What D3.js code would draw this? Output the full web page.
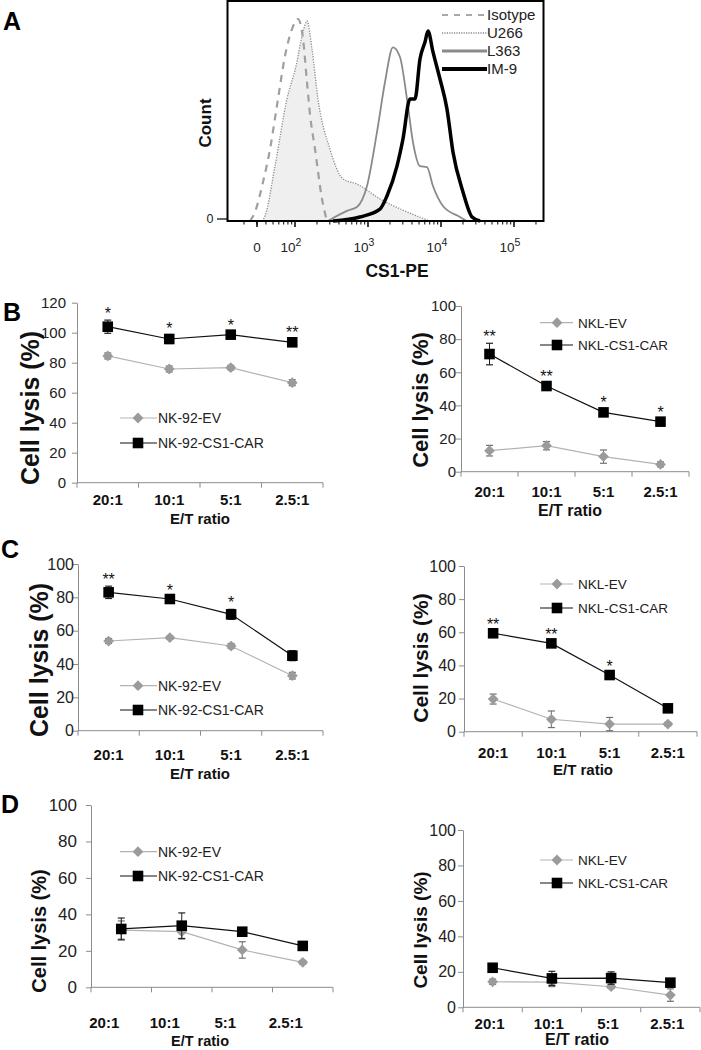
<!DOCTYPE html>
<html><head><meta charset="utf-8">
<script src="https://cdn.jsdelivr.net/npm/d3@7/dist/d3.min.js"></script>
<style>
body{margin:0;background:#fff}
svg{display:block}
text{font-family:"Liberation Sans",Arial,Helvetica,sans-serif}
</style>
</head><body>
<svg id="chart" width="701" height="1050"></svg>
<script>
// ---------------- DATA ----------------
// Panel A: flow histogram (x = display position in decades, y = relative count)
const isotypeX = [1.384,1.452,1.562,1.658,1.767,1.863,1.959,2.041,2.110,2.164,2.205,2.274,2.370,2.438];
const isotypeY = [0,4.5,19.3,35.6,60.4,81.7,95,100,90.1,68.8,53,35.6,10.9,0];
const u266X = [1.548,1.589,1.726,1.890,2.014,2.110,2.164,2.233,2.315,2.479,2.658,2.849,3.164,3.534,3.849];
const u266Y = [0,2.5,27.2,60.4,76.7,93.6,99,85.1,60.4,35.6,20.8,18.3,10.9,4.5,0];
const l363X = [2.452,2.712,2.849,2.986,3.123,3.233,3.342,3.438,3.534,3.616,3.712,3.808,3.890,4.027,4.260,4.356];
const l363Y = [0,5,6.9,17.3,44,68.8,86,81.2,60.4,39,27.2,26.7,17.3,7.4,2,0];
const im9X = [2.521,2.890,3.164,3.260,3.397,3.479,3.575,3.644,3.712,3.781,3.822,3.890,3.986,4.082,4.164,4.301,4.425,4.534];
const im9Y = [0,2,5.9,12.4,27.2,40.6,60.4,60.4,80.2,88.6,94,83.7,70.3,55.4,34.2,14.4,2,0];
const histLegend = ["Isotype","U266","L363","IM-9"];
const histTickPos = [1.48,2,3,4,5];
const histTickBase = ["0","10","10","10","10"];
const histTickExp = ["","2","3","4","5"];

// Panels B-D: cytotoxicity
const categories = ["20:1","10:1","5:1","2.5:1"];
const bNk92EV = [84.5,75.8,76.7,66.7];
const bNk92EVErr = [2,2,1.5,2];
const bNk92CAR = [104,95.8,98.7,93.6];
const bNk92CARErr = [4.4,3,2,2.5];
const bNk92Stars = ["*","*","*","**"];
const bNklEV = [12.7,15.7,9.1,4.4];
const bNklEVErr = [3.2,2.5,4,1.5];
const bNklCAR = [71,51.7,35.8,30.2];
const bNklCARErr = [6.5,2,2,1.5];
const bNklStars = ["**","**","*","*"];
const cNk92EV = [53.8,55.8,50.8,33];
const cNk92EVErr = [1.5,1,1.5,2];
const cNk92CAR = [83,79,69.8,45];
const cNk92CARErr = [3.7,1.5,3,3];
const cNk92Stars = ["**","*","*",""];
const cNklEV = [19.7,7.5,4.6,4.6];
const cNklEVErr = [3,5,4,1];
const cNklCAR = [59.4,53.3,34.2,14.1];
const cNklCARErr = [1.5,1.5,1.5,2];
const cNklStars = ["**","**","*",""];
const dNk92EV = [31.4,30.5,20.5,13.7];
const dNk92EVErr = [5,4,4.5,1];
const dNk92CAR = [32,33.8,30.5,22.7];
const dNk92CARErr = [6,7,1,1.2];
const dNk92Stars = ["","","",""];
const dNklEV = [14.4,14.2,11.6,6.9];
const dNklEVErr = [1.5,2.5,1,3.5];
const dNklCAR = [22.3,16.3,16.5,13.9];
const dNklCARErr = [1,4,3.5,2];
const dNklStars = ["","","",""];
const nk92Legend = ["NK-92-EV","NK-92-CS1-CAR"];
const nklLegend = ["NKL-EV","NKL-CS1-CAR"];
const yTitle = "Cell lysis (%)";
const xTitle = "E/T ratio";

// ---------------- DRAW ----------------
const svg = d3.select("#chart");

// panel letters
[["A",3,30],["B",3,321],["C",1,558],["D",1,813]].forEach(([t,x,y])=>{
  svg.append("text").attr("x",x).attr("y",y).attr("font-size",25).attr("font-weight","bold").attr("fill","#000").text(t);
});

// ---- Panel A ----
(function(){
  const L=227.5,R=543.5,T=1,B=221;
  const x = d3.scaleLinear().domain([2 + (L-295)/73, 2 + (R-295)/73]).range([L,R]);
  const y = d3.scaleLinear().domain([0,100]).range([B,19]);
  const g = svg.append("g");
  const line = d3.line().x(d=>x(d[0])).y(d=>y(d[1])).curve(d3.curveMonotoneX);
  const area = d3.area().x(d=>x(d[0])).y0(y(0)).y1(d=>y(d[1])).curve(d3.curveMonotoneX);
  const u = d3.zip(u266X,u266Y), iso=d3.zip(isotypeX,isotypeY), l3=d3.zip(l363X,l363Y), im=d3.zip(im9X,im9Y);
  g.append("path").attr("d",area(u)).attr("fill","#efefef");
  g.append("path").attr("d",line(u)).attr("fill","none").attr("stroke","#8a8a8a").attr("stroke-width",1.3).attr("stroke-dasharray","1.2,1.4");
  g.append("path").attr("d",line(l3)).attr("fill","none").attr("stroke","#8a8a8a").attr("stroke-width",1.8);
  g.append("path").attr("d",line(im)).attr("fill","none").attr("stroke","#000").attr("stroke-width",3.5).attr("stroke-linejoin","round");
  g.append("path").attr("d",line(iso)).attr("fill","none").attr("stroke","#a0a0a0").attr("stroke-width",2.2).attr("stroke-dasharray","7,6");
  // box
  g.append("rect").attr("x",L).attr("y",T).attr("width",R-L).attr("height",B-T).attr("fill","none").attr("stroke","#000").attr("stroke-width",2);
  // minor ticks
  const minor=[];
  for(let n=1;n<=5;n++) for(let k=2;k<=9;k++){const p=n+Math.log10(k); if(p>x.domain()[0]&&p<x.domain()[1]) minor.push(p);}
  g.selectAll(".mn").data(minor).join("line").attr("x1",d=>x(d)).attr("x2",d=>x(d)).attr("y1",B).attr("y2",B+3.5).attr("stroke","#000").attr("stroke-width",1);
  g.selectAll(".mj").data(histTickPos).join("line").attr("x1",d=>x(d)).attr("x2",d=>x(d)).attr("y1",B).attr("y2",B+6).attr("stroke","#000").attr("stroke-width",1.5);
  const tl = g.selectAll(".tl").data(histTickPos).join("text").attr("x",(d,i)=>x(d)-(i?4:0)).attr("y",252).attr("text-anchor","middle").attr("font-size",13.5).attr("fill","#222");
  tl.append("tspan").text((d,i)=>histTickBase[i]);
  tl.append("tspan").attr("dy",-6).attr("font-size",10.5).text((d,i)=>histTickExp[i]);
  // y axis zero
  g.append("line").attr("x1",217).attr("x2",L).attr("y1",B-2).attr("y2",B-2).attr("stroke","#000").attr("stroke-width",1.2);
  g.append("text").attr("x",210).attr("y",B+2).attr("text-anchor","middle").attr("font-size",12.5).attr("fill","#222").text("0");
  g.append("text").attr("transform","translate(211,123) rotate(-90)").attr("text-anchor","middle").attr("font-size",17).attr("font-weight","bold").attr("fill","#111").text("Count");
  g.append("text").attr("x",397).attr("y",277).attr("text-anchor","middle").attr("font-size",17.5).attr("font-weight","bold").attr("fill","#111").text("CS1-PE");
  // legend
  const ly=[15,33,51,69];
  const styles=[{c:"#a8a8a8",w:2,d:"6,6"},{c:"#8a8a8a",w:1.5,d:"1.2,1.2"},{c:"#8a8a8a",w:3,d:null},{c:"#000",w:4,d:null}];
  histLegend.forEach((t,i)=>{
    g.append("line").attr("x1",442).attr("x2",487).attr("y1",ly[i]).attr("y2",ly[i]).attr("stroke",styles[i].c).attr("stroke-width",styles[i].w).attr("stroke-dasharray",styles[i].d);
    g.append("text").attr("x",487).attr("y",ly[i]).attr("dy","0.36em").attr("font-size",15).attr("fill","#222").text(t);
  });
})();

// ---- Panels B-D ----
const layouts = [
 {x0:77,x1:323,yB:482.7,yT:302.7,ymax:120,tickFs:15,tickR:66,catY:505,catDx:0,catFs:15,etY:524,etX:200,etFs:15,
  tX:39,tY:408,tFs:25,legX:138,legY:[418,443],legL:[120,157],legT:158,legFs:14},
 {x0:461,x1:689,yB:471.7,yT:306,ymax:100,tickFs:15,tickR:456,catY:497,catDx:0,catFs:15,etY:516,etX:570,etFs:16,
  tX:428,tY:400,tFs:22,legX:557,legY:[322.7,345],legL:[540,573],legT:578,legFs:13.5},
 {x0:78,x1:323,yB:730.7,yT:564,ymax:100,tickFs:16,tickR:74,catY:760,catDx:0,catFs:15,etY:779,etX:200,etFs:15,
  tX:48,tY:660,tFs:25,legX:138,legY:[685.7,710],legL:[120,157],legT:158,legFs:14},
 {x0:464,x1:697,yB:731.7,yT:566,ymax:100,tickFs:16,tickR:456,catY:758,catDx:0,catFs:15,etY:775,etX:583,etFs:15,
  tX:428,tY:658,tFs:21,legX:557,legY:[584,608],legL:[540,573],legT:578,legFs:13.5},
 {x0:91,x1:333,yB:987.3,yT:805,ymax:100,tickFs:17,tickR:77,catY:1028,catDx:-17,catFs:15,etY:1046,etX:200,etFs:14.5,
  tX:46,tY:931,tFs:20,legX:138,legY:[851.7,876],legL:[120,157],legT:158,legFs:14},
 {x0:463,x1:700,yB:1007.3,yT:830,ymax:100,tickFs:16,tickR:456,catY:1029,catDx:-3,catFs:15,etY:1045,etX:577,etFs:16,
  tX:427,tY:930,tFs:19,legX:557,legY:[860,883],legL:[540,573],legT:578,legFs:13.5}
];
const panelData = [
 {ev:bNk92EV,evE:bNk92EVErr,car:bNk92CAR,carE:bNk92CARErr,stars:bNk92Stars,leg:nk92Legend},
 {ev:bNklEV,evE:bNklEVErr,car:bNklCAR,carE:bNklCARErr,stars:bNklStars,leg:nklLegend},
 {ev:cNk92EV,evE:cNk92EVErr,car:cNk92CAR,carE:cNk92CARErr,stars:cNk92Stars,leg:nk92Legend},
 {ev:cNklEV,evE:cNklEVErr,car:cNklCAR,carE:cNklCARErr,stars:cNklStars,leg:nklLegend},
 {ev:dNk92EV,evE:dNk92EVErr,car:dNk92CAR,carE:dNk92CARErr,stars:dNk92Stars,leg:nk92Legend},
 {ev:dNklEV,evE:dNklEVErr,car:dNklCAR,carE:dNklCARErr,stars:dNklStars,leg:nklLegend}
];

const EVC="#9b9b9b", EVL="#b3b3b3", AX="#8c8c8c";
const diamond = d3.symbol().type(d3.symbolSquare).size(58)();
const square = d3.symbol().type(d3.symbolSquare).size(112)();

layouts.forEach((c,pi)=>{
  const D = panelData[pi];
  const g = svg.append("g");
  const x = d3.scaleBand().domain(categories).range([c.x0,c.x1]);
  const cx = d => x(d)+x.bandwidth()/2;
  const y = d3.scaleLinear().domain([0,c.ymax]).range([c.yB,c.yT]);
  // y axis
  const ya = g.append("g").attr("transform",`translate(${c.x0},0)`)
    .call(d3.axisLeft(y).tickValues(d3.range(0,c.ymax+1,20)).tickSize(5).tickSizeOuter(0).tickPadding(c.x0-c.tickR-5));
  ya.select(".domain").attr("stroke",AX);
  ya.selectAll(".tick line").attr("stroke",AX);
  ya.selectAll(".tick text").attr("font-size",c.tickFs).attr("fill","#222").attr("font-family","Liberation Sans, Arial, sans-serif");
  // x axis
  g.append("line").attr("x1",c.x0).attr("x2",c.x1).attr("y1",c.yB).attr("y2",c.yB).attr("stroke",AX);
  const bounds = categories.map(d=>x(d)).concat([c.x1]);
  g.selectAll(".xt").data(bounds).join("line").attr("x1",d=>d).attr("x2",d=>d).attr("y1",c.yB).attr("y2",c.yB+5).attr("stroke",AX);
  g.selectAll(".xl").data(categories).join("text").attr("x",d=>cx(d)+c.catDx).attr("y",c.catY)
    .attr("text-anchor","middle").attr("font-size",c.catFs).attr("font-weight","bold").attr("fill","#111").text(d=>d);
  g.append("text").attr("x",c.etX).attr("y",c.etY).attr("text-anchor","middle").attr("font-size",c.etFs).attr("font-weight","bold").attr("fill","#111").text(xTitle);
  g.append("text").attr("transform",`translate(${c.tX},${c.tY}) rotate(-90)`).attr("text-anchor","middle")
    .attr("font-size",c.tFs).attr("font-weight","bold").attr("fill","#111").text(yTitle);

  const line = d3.line().x((d,i)=>cx(categories[i])).y(d=>y(d));
  // series draw
  const series = [
    {v:D.ev,e:D.evE,lc:EVL,lw:1.2,ec:"#6f6f6f",mk:diamond,rot:45,mc:EVC},
    {v:D.car,e:D.carE,lc:"#111",lw:1.2,ec:"#222",mk:square,rot:0,mc:"#000"}
  ];
  series.forEach(s=>{
    g.append("path").attr("d",line(s.v)).attr("fill","none").attr("stroke",s.lc).attr("stroke-width",s.lw);
    categories.forEach((cat,i)=>{
      const X=cx(cat), lo=y(s.v[i]-s.e[i]), hi=y(s.v[i]+s.e[i]);
      g.append("line").attr("x1",X).attr("x2",X).attr("y1",lo).attr("y2",hi).attr("stroke",s.ec).attr("stroke-width",1);
      [lo,hi].forEach(yy=>g.append("line").attr("x1",X-3.5).attr("x2",X+3.5).attr("y1",yy).attr("y2",yy).attr("stroke",s.ec).attr("stroke-width",1.2));
    });
    g.selectAll(null).data(s.v).join("path").attr("d",s.mk)
      .attr("transform",(d,i)=>`translate(${cx(categories[i])},${y(d)}) rotate(${s.rot})`).attr("fill",s.mc);
  });
  // stars
  categories.forEach((cat,i)=>{
    if(!D.stars[i]) return;
    const top = y(D.car[i]+D.carE[i]);
    g.append("text").attr("x",cx(cat)).attr("y",top-1).attr("text-anchor","middle").attr("font-size",16).attr("fill","#111").text(D.stars[i]);
  });
  // legend
  [[EVL,diamond,45,EVC],["#111",square,0,"#000"]].forEach((st,i)=>{
    const ly=c.legY[i];
    g.append("line").attr("x1",c.legL[0]).attr("x2",c.legL[1]).attr("y1",ly).attr("y2",ly).attr("stroke",st[0]).attr("stroke-width",1.2);
    g.append("path").attr("d",st[1]).attr("transform",`translate(${c.legX},${ly}) rotate(${st[2]})`).attr("fill",st[3]);
    g.append("text").attr("x",c.legT).attr("y",ly).attr("dy","0.36em").attr("font-size",c.legFs).attr("fill","#222").text(D.leg[i]);
  });
});
</script>
</body></html>
